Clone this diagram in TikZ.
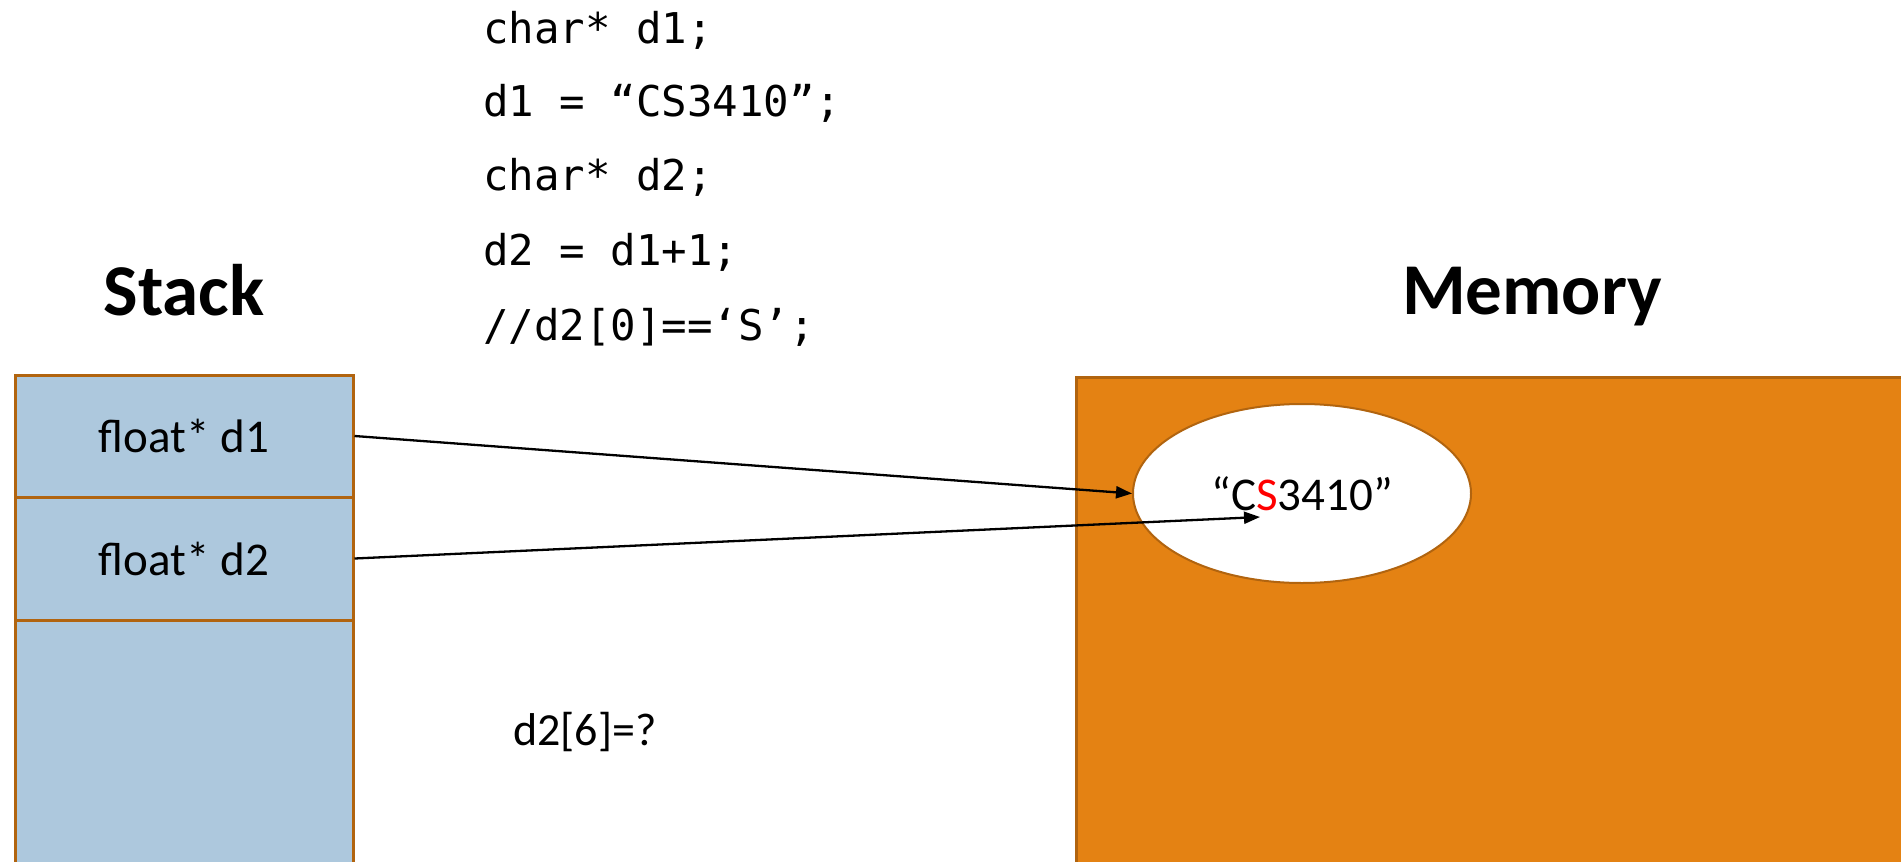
\documentclass[tikz,border=0pt]{standalone}
\usepackage{fontspec}
\setmainfont{Carlito}
\newfontfamily\codefont{DejaVu Sans Mono}
\usetikzlibrary{shapes.geometric,arrows.meta}
\definecolor{stackfill}{HTML}{ADC8DD}
\definecolor{brd}{HTML}{B1640F}
\definecolor{memfill}{HTML}{E48213}
\begin{document}
\begin{tikzpicture}[x=1pt,y=-1pt,
  cell/.style={draw=brd,line width=3pt,fill=stackfill,rectangle,inner sep=0pt,
    minimum width=338pt,font=\fontsize{47}{56}\selectfont},
  codeline/.style={anchor=base west,inner sep=0pt,font=\codefont\fontsize{42.4}{50}\selectfont},
  title/.style={anchor=base,inner sep=0pt,font=\bfseries\fontsize{73}{88}\selectfont},
  ptr/.style={line width=2.3pt,-{Triangle[length=16pt,width=12pt]}}]
\useasboundingbox (0,0) rectangle (1901,862);
\clip (0,0) rectangle (1901,862);
% code
\node[codeline] (c1) at (483,43) {char* d1;};
\node[codeline] (c2) at (483,116.5) {d1 = “CS3410”;};
\node[codeline] (c3) at (483,190) {char* d2;};
\node[codeline] (c4) at (483,265) {d2 = d1+1;};
\node[codeline] (c5) at (483,340) {//d2[0]==‘S’;};
% titles
\node[title] (stk) at (184,315) {Stack};
\node[title] (mem) at (1532,314) {Memory};
% stack
\node[cell,minimum height=122pt] (s1) at (184,436) {float* d1};
\node[cell,minimum height=123pt] (s2) at (184,558.5) {float* d2};
\node[cell,minimum height=270pt] (s3) at (184,755) {};
% memory
\node[draw=brd,line width=2.5pt,fill=memfill,rectangle,inner sep=0pt,
  minimum width=860pt,minimum height=520pt,anchor=north west] (memrect) at (1075,376) {};
\node[ellipse,draw=brd,line width=2pt,fill=white,inner sep=0pt,
  minimum width=338pt,minimum height=179pt,font=\fontsize{47}{56}\selectfont] (str) at (1302,493.5)
  {“C\textcolor{red}{S}3410”};
\coordinate (sref) at (1260,517);
% question
\node[anchor=base west,inner sep=0pt,font=\fontsize{46}{55}\selectfont] (q) at (513,745) {d2[6]=?};
% arrows
\draw[ptr] (s1.east) -- (str.west);
\draw[ptr] (s2.east) -- (sref);
\end{tikzpicture}
\end{document}
